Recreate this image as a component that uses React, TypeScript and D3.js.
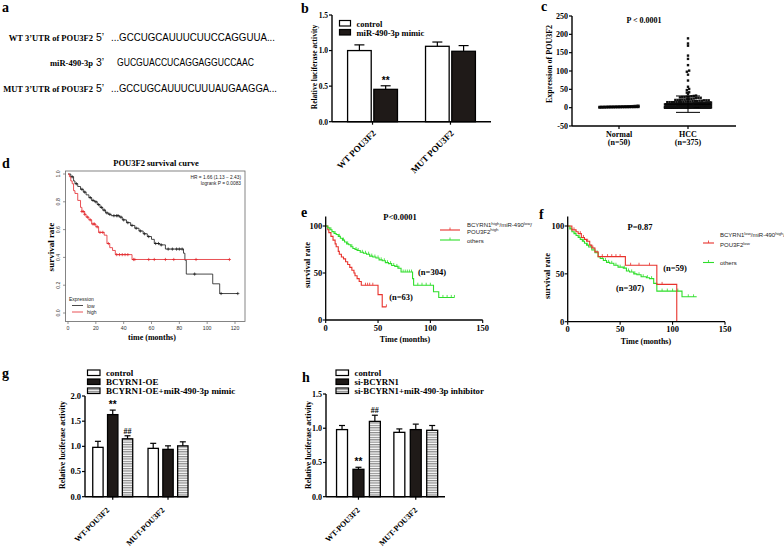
import React from 'react';
import * as d3 from 'd3';

const SERIF = "'Liberation Serif','Times New Roman',serif";
const SANS = "'Liberation Sans',Arial,sans-serif";

// ---------------- a: sequences
const seqLabels = ["WT 3\u2019UTR of POU3F2", "miR-490-3p", "MUT 3\u2019UTR of POU3F2"];
const seqEnds = ["5\u2019", "3\u2019", "5\u2019"];
const seqTexts = ["...GCCUGCAUUUCUUCCAGGUUA...", "GUCGUACCUCAGGAGGUCCAAC", "...GCCUGCAUUUCUUUAUGAAGGA..."];

// ---------------- b: luciferase
const bCategories = ["WT POU3F2", "MUT POU3F2"];
const bSeries = ["control", "miR-490-3p mimic"];
const bMeans = [[1.0, 1.06], [0.455, 0.99]];
const bSD = [[0.08, 0.06], [0.05, 0.08]];
const bTicks = [0, 0.5, 1.0, 1.5];

// ---------------- c: expression scatter
const cGroups = ["Normal", "HCC"];
const cGroupN = ["(n=50)", "(n=375)"];
const cTicks = [-50, 0, 50, 100, 150, 200, 250];
const normalValues = [0.2, 0.4, 0.5, 0.6, 0.7, 0.8, 0.9, 1.0, 1.0, 1.1, 1.2, 1.2, 1.3, 1.4, 1.4, 1.5, 1.5, 1.6, 1.7, 1.7, 1.8, 1.9, 1.9, 2.0, 2.1, 2.1, 2.2, 2.3, 2.3, 2.4, 2.5, 2.6, 2.6, 2.7, 2.8, 2.9, 3.0, 3.1, 3.2, 3.3, 3.4, 3.5, 3.6, 3.8, 3.9, 4.1, 4.3, 4.5, 4.8, 5.2];
const hccHigh = [189, 175, 169, 142, 133, 116, 101, 98, 90, 74, 57, 51, 48, 42, 41, 37, 33, 32, 31, 30, 30, 29, 29, 28, 27, 27, 26, 25, 24, 23, 23, 22, 22, 21, 21, 21, 20, 20, 20, 19, 19, 18, 18, 18];
const hccLowValues = [0, 1, 2, 3, 4, 5, 6, 7, 8, 9, 10, 11, 12, 13, 14, 15, 16, 17];
const hccLowCounts = [64, 55, 42, 33, 26, 20, 16, 13, 11, 9, 8, 7, 6, 5, 5, 4, 4, 3];

// ---------------- d: KM plot (kmplot)
const dTicksX = [0, 20, 40, 60, 80, 100, 120];
const dTicksY = [0, 0.2, 0.4, 0.6, 0.8, 1.0];
const dLowSteps = [[0, 1.0], [2, 0.98], [4, 0.95], [5, 0.93], [7, 0.91], [9, 0.89], [11, 0.87], [13, 0.85], [15, 0.83], [17, 0.81], [19, 0.8], [21, 0.78], [23, 0.76], [25, 0.74], [27, 0.72], [29, 0.71], [31, 0.7], [37, 0.69], [39, 0.67], [42, 0.65], [45, 0.63], [48, 0.61], [51, 0.59], [54, 0.57], [57, 0.55], [60, 0.53], [62, 0.5], [66, 0.49], [70, 0.46], [83, 0.43], [84, 0.38], [85, 0.28], [104, 0.21], [109, 0.14]];
const dLowEnd = 122;
const dLowCensor = [3, 6, 10, 12, 16, 18, 20, 22, 24, 26, 28, 30, 33, 35, 36, 38, 40, 43, 46, 49, 52, 55, 58, 63, 65, 67, 72, 75, 78, 80, 82, 91, 110, 122];
const dHighSteps = [[0, 1.0], [1, 0.98], [2, 0.95], [3, 0.93], [4, 0.88], [5, 0.86], [7, 0.81], [9, 0.76], [10, 0.73], [12, 0.71], [13, 0.69], [15, 0.67], [17, 0.64], [20, 0.62], [22, 0.58], [26, 0.56], [28, 0.5], [30, 0.47], [32, 0.45], [34, 0.42], [46, 0.385]];
const dHighEnd = 116;
const dHighCensor = [10, 11, 12, 14, 16, 18, 19, 21, 23, 25, 29, 35, 37, 39, 41, 43, 47, 48, 58, 62, 70, 76, 92, 116];

// ---------------- e / f: KM plots (GraphPad)
const kmTicksX = [0, 50, 100, 150];
const kmTicksY = [0, 50, 100];
const eRedSteps = [[0, 100], [2, 96], [3, 93], [5, 89], [7, 85], [9, 81], [10, 78], [12, 73], [13, 70], [15, 67], [17, 65], [19, 62], [21, 59], [23, 56], [25, 53], [27, 50], [28, 47], [30, 44], [32, 41], [34, 37], [50, 27], [54, 14]];
const eRedEnd = 58;
const eRedCensor = [38, 40, 42, 45, 58];
const eGreenSteps = [[0, 100], [2, 98], [4, 96], [6, 94], [8, 92], [10, 91], [12, 89], [14, 87], [16, 85], [18, 83], [20, 81], [22, 80], [24, 78], [26, 76], [28, 75], [30, 74], [33, 72], [36, 71], [39, 70], [42, 68], [45, 67], [48, 66], [51, 64], [54, 63], [57, 61], [60, 60], [63, 58], [66, 57], [69, 55], [72, 51], [83, 44], [84, 37], [103, 30], [108, 24]];
const eGreenEnd = 123;
const eGreenCensor = [5, 9, 13, 17, 21, 25, 29, 31, 35, 38, 41, 44, 47, 50, 53, 56, 59, 62, 65, 68, 70, 74, 76, 78, 80, 82, 88, 92, 96, 100, 112, 116, 120, 123];
const fRedSteps = [[0, 100], [4, 96], [8, 94], [10, 92], [13, 88], [16, 86], [18, 84], [21, 80], [23, 77], [26, 73], [29, 68], [55, 59], [85, 39], [104, 0]];
const fRedEnd = 104;
const fRedCensor = [6, 12, 15, 19, 24, 33, 38, 42, 46, 50, 60, 68, 78, 90];
const fGreenSteps = [[0, 100], [2, 97], [4, 94], [6, 92], [8, 90], [10, 88], [12, 86], [14, 84], [16, 82], [18, 80], [20, 78], [23, 75], [26, 72], [29, 68], [31, 66], [34, 64], [37, 62], [40, 61], [44, 59], [48, 57], [53, 56], [56, 53], [59, 52], [63, 50], [66, 49], [70, 47], [75, 46], [78, 45], [82, 40], [85, 32], [109, 26]];
const fGreenEnd = 123;
const fGreenCensor = [3, 7, 11, 15, 19, 22, 25, 28, 33, 36, 39, 42, 46, 50, 54, 58, 61, 64, 68, 72, 76, 80, 90, 95, 100, 105, 115, 120];

// ---------------- g / h: luciferase
const ghCategories = ["WT-POU3F2", "MUT-POU3F2"];
const gSeries = ["control", "BCYRN1-OE", "BCYRN1-OE+miR-490-3p mimic"];
const gMeans = [[0.98, 0.96], [1.63, 0.94], [1.15, 1.01]];
const gSD = [[0.12, 0.1], [0.09, 0.07], [0.06, 0.08]];
const gTicks = [0, 0.5, 1.0, 1.5, 2.0];
const hSeries = ["control", "si-BCYRN1", "si-BCYRN1+miR-490-3p inhibitor"];
const hMeans = [[0.98, 0.94], [0.4, 0.98], [1.1, 0.97]];
const hSD = [[0.06, 0.05], [0.03, 0.08], [0.09, 0.07]];
const hTicks = [0, 0.5, 1.0, 1.5];

const BAR_FILLS = ["#ffffff", "#1f1a18", "url(#stripes)"];

type Mark = { c: number; s: number; t: string };

function BarPanel(p: {
  axisX: number; axisEnd: number; y0: number; yTopVal: number; yTopPx: number;
  cats: string[]; series: string[]; means: number[][]; errs: number[][]; ticks: number[];
  pIn: number; pOut: number; align: number; innerPad: number; cap: number;
  marks: Mark[]; ylabel: string; ylabelX: number; ylabelY: number;
  labDx: number; labDy: number; tickFont: number; labFont: number; yFont: number;
  legX: number; legY: number[]; legW: number; legH: number; legFont: number;
}) {
  const y = d3.scaleLinear().domain([0, p.yTopVal]).range([p.y0, p.yTopPx]);
  const xg = d3.scaleBand<string>().domain(p.cats).range([p.axisX, p.axisEnd])
    .paddingInner(p.pIn).paddingOuter(p.pOut).align(p.align);
  const xs = d3.scaleBand<string>().domain(p.series).range([0, xg.bandwidth()]).paddingInner(p.innerPad);
  const bw = xs.bandwidth();
  return (
    <g>
      {p.series.map((s, si) => p.cats.map((c, ci) => {
        const x = (xg(c) as number) + (xs(s) as number);
        const v = p.means[si][ci];
        const e = v + p.errs[si][ci];
        const cx = x + bw / 2;
        return (
          <g key={s + c}>
            <line x1={cx} x2={cx} y1={y(v)} y2={y(e)} stroke="#000" strokeWidth={1.2} />
            <line x1={cx - p.cap / 2} x2={cx + p.cap / 2} y1={y(e)} y2={y(e)} stroke="#000" strokeWidth={1.2} />
            <rect x={x} y={y(v)} width={bw} height={p.y0 - y(v)} fill={BAR_FILLS[si]} stroke="#000" strokeWidth={1.3} />
          </g>
        );
      }))}
      {p.marks.map((m, i) => {
        const x = (xg(p.cats[m.c]) as number) + (xs(p.series[m.s]) as number) + bw / 2;
        const e = p.means[m.s][m.c] + p.errs[m.s][m.c];
        return <text key={i} x={x} y={y(e) - 2} textAnchor="middle" fontSize={m.t === '**' ? 10 : 8} fontWeight="bold" fontFamily={m.t === '**' ? SANS : SERIF}>{m.t}</text>;
      })}
      <line x1={p.axisX} x2={p.axisX} y1={p.y0} y2={p.yTopPx} stroke="#000" strokeWidth={1.4} />
      <line x1={p.axisX} x2={p.axisEnd} y1={p.y0} y2={p.y0} stroke="#000" strokeWidth={1.4} />
      {p.ticks.map(t => (
        <g key={t}>
          <line x1={p.axisX - 3} x2={p.axisX} y1={y(t)} y2={y(t)} stroke="#000" strokeWidth={1.2} />
          <text x={p.axisX - 4} y={y(t) + 2.8} textAnchor="end" fontSize={p.tickFont} fontWeight="bold">{t.toFixed(1)}</text>
        </g>
      ))}
      {p.cats.map(c => {
        const cx = (xg(c) as number) + xg.bandwidth() / 2;
        return (
          <g key={c}>
            <line x1={cx} x2={cx} y1={p.y0} y2={p.y0 + 3} stroke="#000" strokeWidth={1.2} />
            <text transform={`translate(${cx + p.labDx},${p.y0 + p.labDy}) rotate(-45)`} textAnchor="end" fontSize={p.labFont} fontWeight="bold">{c}</text>
          </g>
        );
      })}
      <text transform={`translate(${p.ylabelX},${p.ylabelY}) rotate(-90)`} textAnchor="middle" fontSize={p.yFont} fontWeight="bold">{p.ylabel}</text>
      {p.series.map((s, si) => (
        <g key={s}>
          <rect x={p.legX} y={p.legY[si] - p.legH - 0.5} width={p.legW} height={p.legH} fill={BAR_FILLS[si]} stroke="#000" strokeWidth={1.2} />
          <text x={p.legX + p.legW + 6} y={p.legY[si]} fontSize={p.legFont} fontWeight="bold">{s}</text>
        </g>
      ))}
    </g>
  );
}

function swarm(values: number[], y: (v: number) => number, cx: number, maxW: number, rowH: number) {
  const rows = d3.group(values, v => Math.round(y(v) / rowH));
  const pts: { x: number; y: number }[] = [];
  for (const [, vs] of rows) {
    const sorted = [...vs].sort(d3.ascending);
    const n = sorted.length;
    const sp = n > 1 ? Math.min(rowH, maxW / (n - 1)) : 0;
    sorted.forEach((v, i) => pts.push({ x: cx + (i - (n - 1) / 2) * sp, y: y(v) }));
  }
  return pts;
}

function PanelC() {
  const axisX = 572, axisEnd = 736;
  const y = d3.scaleLinear().domain([-50, 250]).range([126, 16]);
  const x = d3.scalePoint<string>().domain(cGroups).range([619, 688]);
  const hccValues = [...hccHigh, ...hccLowValues.flatMap((v, i) => Array(hccLowCounts[i]).fill(v))];
  const groups = [normalValues, hccValues];
  const widths = [39, 46];
  return (
    <g>
      {groups.map((vals, gi) => {
        const cx = x(cGroups[gi]) as number;
        const pts = swarm(vals, y, cx, widths[gi], 2.3);
        const m = d3.mean(vals) as number;
        const sd = d3.deviation(vals) as number;
        return (
          <g key={gi}>
            {pts.map((pt, i) => <rect key={i} x={pt.x - 1.2} y={pt.y - 1.2} width={2.4} height={2.4} fill="#111" />)}
            <line x1={cx - widths[gi] / 2} x2={cx + widths[gi] / 2} y1={y(m)} y2={y(m)} stroke="#000" strokeWidth={1.2} />
            <line x1={cx} x2={cx} y1={y(m - sd)} y2={y(m + sd)} stroke="#000" strokeWidth={1} />
            <line x1={cx - 12} x2={cx + 12} y1={y(m + sd)} y2={y(m + sd)} stroke="#000" strokeWidth={1} />
            <line x1={cx - 12} x2={cx + 12} y1={y(m - sd)} y2={y(m - sd)} stroke="#000" strokeWidth={1} />
            <line x1={cx} x2={cx} y1={126} y2={129} stroke="#000" strokeWidth={1.2} />
            <text x={cx} y={137} textAnchor="middle" fontSize={8} fontWeight="bold">{cGroups[gi]}</text>
            <text x={cx} y={144.5} textAnchor="middle" fontSize={8} fontWeight="bold">{cGroupN[gi]}</text>
          </g>
        );
      })}
      <line x1={axisX} x2={axisX} y1={y(-50)} y2={y(250)} stroke="#000" strokeWidth={1.4} />
      <line x1={axisX} x2={axisEnd} y1={y(-50)} y2={y(-50)} stroke="#000" strokeWidth={1.4} />
      {cTicks.map(t => (
        <g key={t}>
          <line x1={axisX - 3} x2={axisX} y1={y(t)} y2={y(t)} stroke="#000" strokeWidth={1.2} />
          <text x={axisX - 4} y={y(t) + 2.8} textAnchor="end" fontSize={8} fontWeight="bold">{t}</text>
        </g>
      ))}
      <text x={644} y={23} textAnchor="middle" fontSize={8} fontWeight="bold">P &lt; 0.0001</text>
      <text transform="translate(552,64) rotate(-90)" textAnchor="middle" fontSize={8} fontWeight="bold">Expression of POU3F2</text>
    </g>
  );
}

const survAt = (steps: number[][], t: number) => {
  let s = steps[0][1];
  for (const [tt, ss] of steps) if (tt <= t) s = ss;
  return s;
};
const stepPath = (steps: number[][], end: number, x: (v: number) => number, y: (v: number) => number) => {
  const pts = [...steps, [end, steps[steps.length - 1][1]]];
  return d3.line<number[]>().x(d => x(d[0])).y(d => y(d[1])).curve(d3.curveStepAfter)(pts) as string;
};

function PanelD() {
  const x = d3.scaleLinear().domain([0, 120]).range([68, 235]);
  const y = d3.scaleLinear().domain([0, 1]).range([313, 174]);
  const curves = [
    { steps: dLowSteps, end: dLowEnd, cens: dLowCensor, color: "#1a1a1a" },
    { steps: dHighSteps, end: dHighEnd, cens: dHighCensor, color: "#e3262b" },
  ];
  return (
    <g>
      <rect x={65.5} y={171} width={179.5} height={150.5} fill="none" stroke="#666" strokeWidth={0.8} />
      {curves.map((c, i) => (
        <g key={i}>
          <path d={stepPath(c.steps, c.end, x, y)} fill="none" stroke={c.color} strokeWidth={0.8} />
          {c.cens.map((t, j) => {
            const cx = x(t), cy = y(survAt(c.steps, t));
            return <path key={j} d={`M${cx - 1.6},${cy}H${cx + 1.6}M${cx},${cy - 1.6}V${cy + 1.6}`} stroke={c.color} strokeWidth={0.7} />;
          })}
        </g>
      ))}
      {dTicksX.map(t => (
        <g key={t}>
          <line x1={x(t)} x2={x(t)} y1={321.5} y2={324} stroke="#666" strokeWidth={0.7} />
          <text x={x(t)} y={330} textAnchor="middle" fontSize={5.2} fontFamily={SANS} fill="#333">{t}</text>
        </g>
      ))}
      {dTicksY.map(t => (
        <g key={t}>
          <line x1={63} x2={65.5} y1={y(t)} y2={y(t)} stroke="#666" strokeWidth={0.7} />
          <text transform={`translate(60,${y(t)}) rotate(-90)`} textAnchor="middle" fontSize={5.2} fontFamily={SANS} fill="#333">{t.toFixed(1)}</text>
        </g>
      ))}
      <text x={156} y={165.5} textAnchor="middle" fontSize={8.5} fontWeight="bold">POU3F2 survival curve</text>
      <text x={241} y={178.5} textAnchor="end" fontSize={4.8} fontFamily={SANS} fill="#222">HR = 1.66 (1.13 − 2.43)</text>
      <text x={241} y={184.5} textAnchor="end" fontSize={4.8} fontFamily={SANS} fill="#222">logrank P = 0.0083</text>
      <text x={69} y={300.5} fontSize={5} fontFamily={SANS} fill="#222">Expression</text>
      <line x1={72} x2={83} y1={305.5} y2={305.5} stroke="#1a1a1a" strokeWidth={0.8} />
      <text x={87} y={307.5} fontSize={5} fontFamily={SANS} fill="#222">low</text>
      <line x1={72} x2={83} y1={312} y2={312} stroke="#e3262b" strokeWidth={0.8} />
      <text x={87} y={314} fontSize={5} fontFamily={SANS} fill="#222">high</text>
      <text transform="translate(53.5,247) rotate(-90)" textAnchor="middle" fontSize={9} fontWeight="bold">survival rate</text>
      <text x={152} y={340} textAnchor="middle" fontSize={8} fontWeight="bold">time (months)</text>
    </g>
  );
}

function KMPanel(p: {
  x0: number; x150: number; y0: number; y100: number;
  curves: { steps: number[][]; end: number; cens: number[]; color: string }[];
  pText: string; pX: number; pY: number;
  nLabels: { t: string; x: number; y: number }[];
  ylabX: number; ylabY: number; xlabX: number;
}) {
  const x = d3.scaleLinear().domain([0, 150]).range([p.x0, p.x150]);
  const y = d3.scaleLinear().domain([0, 100]).range([p.y0, p.y100]);
  return (
    <g>
      {p.curves.map((c, i) => (
        <g key={i}>
          <path d={stepPath(c.steps, c.end, x, y)} fill="none" stroke={c.color} strokeWidth={1.1} />
          {c.cens.map((t, j) => {
            const cx = x(t), cy = y(survAt(c.steps, t));
            return <line key={j} x1={cx} x2={cx} y1={cy} y2={cy - 2.5} stroke={c.color} strokeWidth={0.8} />;
          })}
        </g>
      ))}
      <line x1={p.x0} x2={p.x0} y1={p.y0} y2={y(110)} stroke="#000" strokeWidth={1.3} />
      <line x1={p.x0} x2={p.x150} y1={p.y0} y2={p.y0} stroke="#000" strokeWidth={1.3} />
      {kmTicksY.map(t => (
        <g key={t}>
          <line x1={p.x0 - 3} x2={p.x0} y1={y(t)} y2={y(t)} stroke="#000" strokeWidth={1.1} />
          <text x={p.x0 - 3.5} y={y(t) + 3} textAnchor="end" fontSize={8.5} fontWeight="bold">{t}</text>
        </g>
      ))}
      {kmTicksX.map(t => (
        <g key={t}>
          <line x1={x(t)} x2={x(t)} y1={p.y0} y2={p.y0 + 3} stroke="#000" strokeWidth={1.1} />
          <text x={x(t)} y={p.y0 + 10.5} textAnchor="middle" fontSize={8.5} fontWeight="bold">{t}</text>
        </g>
      ))}
      <text x={p.pX} y={p.pY} textAnchor="middle" fontSize={8.5} fontWeight="bold">{p.pText}</text>
      {p.nLabels.map((n, i) => <text key={i} x={n.x} y={n.y} textAnchor="middle" fontSize={8.5} fontWeight="bold">{n.t}</text>)}
      <text transform={`translate(${p.ylabX},${p.ylabY}) rotate(-90)`} textAnchor="middle" fontSize={8.5} fontWeight="bold">survival rate</text>
      <text x={p.xlabX} y={p.y0 + 22} textAnchor="middle" fontSize={8} fontWeight="bold">Time (months)</text>
    </g>
  );
}

function LegendLine({ x1, x2, y, color }: { x1: number; x2: number; y: number; color: string }) {
  const m = (x1 + x2) / 2;
  return (
    <g>
      <line x1={x1} x2={x2} y1={y} y2={y} stroke={color} strokeWidth={1.1} />
      <line x1={m} x2={m} y1={y} y2={y - 2.5} stroke={color} strokeWidth={0.8} />
    </g>
  );
}

function PanelA() {
  const ys = [40.5, 66, 92];
  const lens = [164, 137, 166];
  const starts = [111, 117, 111];
  return (
    <g>
      {seqLabels.map((l, i) => (
        <g key={i}>
          <text x={93} y={ys[i]} textAnchor="end" fontSize={8.5} fontWeight="bold">{l}</text>
          <text x={96} y={ys[i]} fontSize={10.5} fontFamily={SANS}>{seqEnds[i]}</text>
          <text x={starts[i]} y={ys[i]} fontSize={10.5} fontFamily={SANS} textLength={lens[i]} lengthAdjust="spacingAndGlyphs">{seqTexts[i]}</text>
        </g>
      ))}
    </g>
  );
}

export default function App() {
  return (
    <svg width={784} height={548} style={{ position: 'absolute', left: 0, top: 0, background: '#fff' }} fontFamily={SERIF}>
      <defs>
        <pattern id="stripes" width={4} height={2.4} patternUnits="userSpaceOnUse">
          <rect width={4} height={2.4} fill="#fff" />
          <rect width={4} height={1.2} fill="#8a8a8a" />
        </pattern>
      </defs>
      <rect width={784} height={548} fill="#fff" />
      {/* panel letters */}
      <text x={2} y={12} fontSize={14} fontWeight="bold">a</text>
      <text x={301} y={13} fontSize={14} fontWeight="bold">b</text>
      <text x={541} y={10.5} fontSize={14} fontWeight="bold">c</text>
      <text x={2} y={168} fontSize={14} fontWeight="bold">d</text>
      <text x={301} y={217} fontSize={14} fontWeight="bold">e</text>
      <text x={539} y={219} fontSize={14} fontWeight="bold">f</text>
      <text x={2} y={378} fontSize={14} fontWeight="bold">g</text>
      <text x={302} y={381.5} fontSize={14} fontWeight="bold">h</text>

      <PanelA />

      <BarPanel axisX={332} axisEnd={491} y0={121.7} yTopVal={1.5} yTopPx={15}
        cats={bCategories} series={bSeries} means={bMeans} errs={bSD} ticks={bTicks}
        pIn={0.36} pOut={0.2} align={0.5} innerPad={0.1} cap={10}
        marks={[{ c: 0, s: 1, t: '**' }]}
        ylabel="Relative luciferase activity" ylabelX={317} ylabelY={67}
        labDx={4} labDy={12} tickFont={7.5} labFont={9} yFont={7.5}
        legX={339.5} legY={[26.5, 35.5]} legW={11} legH={5.5} legFont={8.5} />

      <PanelC />
      <PanelD />

      <KMPanel x0={325.7} x150={482.7} y0={320} y100={226}
        curves={[
          { steps: eRedSteps, end: eRedEnd, cens: eRedCensor, color: "#e8322c" },
          { steps: eGreenSteps, end: eGreenEnd, cens: eGreenCensor, color: "#2ede2a" },
        ]}
        pText="P<0.0001" pX={400} pY={220}
        nLabels={[{ t: "(n=304)", x: 432, y: 274.5 }, { t: "(n=63)", x: 401, y: 300 }]}
        ylabX={310} ylabY={265} xlabX={405} />
      <g fontFamily={SANS} fontSize={6} fill="#222">
        <text x={467} y={227}>BCYRN1<tspan fontSize={4.3} dy={-2.4}>high</tspan><tspan dy={2.4}>/miR-490</tspan><tspan fontSize={4.3} dy={-2.4}>low</tspan><tspan dy={2.4}>/</tspan></text>
        <text x={467} y={233.5}>POU3F2<tspan fontSize={4.3} dy={-2.4}>high</tspan></text>
        <text x={467} y={242.5}>others</text>
      </g>
      <LegendLine x1={440} x2={460} y={230} color="#e8322c" />
      <LegendLine x1={440} x2={460} y={240} color="#2ede2a" />

      <KMPanel x0={567.7} x150={725} y0={321.7} y100={226}
        curves={[
          { steps: fGreenSteps, end: fGreenEnd, cens: fGreenCensor, color: "#2ede2a" },
          { steps: fRedSteps, end: fRedEnd, cens: fRedCensor, color: "#e8322c" },
        ]}
        pText="P=0.87" pX={640} pY={230}
        nLabels={[{ t: "(n=59)", x: 675, y: 270.5 }, { t: "(n=307)", x: 630, y: 291 }]}
        ylabX={550} ylabY={276} xlabX={646} />
      <g fontFamily={SANS} fontSize={6} fill="#222">
        <text x={720} y={237}>BCYRN1<tspan fontSize={4.3} dy={-2.4}>low</tspan><tspan dy={2.4}>/miR-490</tspan><tspan fontSize={4.3} dy={-2.4}>high</tspan><tspan dy={2.4}>/</tspan></text>
        <text x={720} y={247}>POU3F2<tspan fontSize={4.3} dy={-2.4}>low</tspan></text>
        <text x={720} y={265}>others</text>
      </g>
      <LegendLine x1={703} x2={714} y={243} color="#e8322c" />
      <LegendLine x1={703} x2={714} y={262.5} color="#2ede2a" />

      <BarPanel axisX={85} axisEnd={188} y0={496.7} yTopVal={2.0} yTopPx={396}
        cats={ghCategories} series={gSeries} means={gMeans} errs={gSD} ticks={gTicks}
        pIn={0.277} pOut={0.07} align={1} innerPad={0.3} cap={6}
        marks={[{ c: 0, s: 1, t: '**' }, { c: 0, s: 2, t: '##' }]}
        ylabel="Relative luciferase activity" ylabelX={65} ylabelY={445}
        labDx={-3} labDy={14} tickFont={8.5} labFont={8} yFont={7.8}
        legX={87.5} legY={[376, 385, 394]} legW={12.5} legH={5.5} legFont={9} />

      <BarPanel axisX={326} axisEnd={445} y0={496.7} yTopVal={1.5} yTopPx={394}
        cats={ghCategories} series={hSeries} means={hMeans} errs={hSD} ticks={hTicks}
        pIn={0.236} pOut={0.156} align={0.59} innerPad={0.333} cap={6}
        marks={[{ c: 0, s: 1, t: '**' }, { c: 0, s: 2, t: '##' }]}
        ylabel="Relative luciferase activity" ylabelX={310.5} ylabelY={445}
        labDx={2} labDy={14} tickFont={8} labFont={8} yFont={7.8}
        legX={336} legY={[376, 385, 394]} legW={12.5} legH={5.5} legFont={8.8} />
    </svg>
  );
}
